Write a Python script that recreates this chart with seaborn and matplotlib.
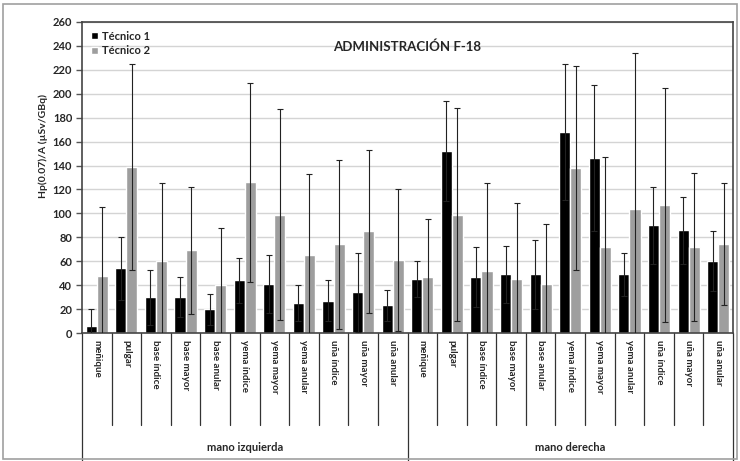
import pandas as pd
import seaborn as sns
import matplotlib.pyplot as plt
from matplotlib.patches import Rectangle
from matplotlib.transforms import blended_transform_factory

dedos = ['meñique', 'pulgar', 'base índice', 'base mayor', 'base anular',
         'yema índice', 'yema mayor', 'yema anular', 'uña índice', 'uña mayor', 'uña anular']
manos = ['mano izquierda', 'mano derecha']

# medias y desviaciones (µSv/GBq)
t1_izq = [6, 54, 30, 30, 20, 44, 41, 25, 27, 34, 23]
t1_izq_err = [14, 26, 23, 17, 13, 19, 24, 15, 17, 33, 13]
t2_izq = [48, 139, 60, 69, 40, 126, 99, 65, 74, 85, 61]
t2_izq_err = [57, 86, 65, 53, 48, 83, 88, 68, 71, 68, 59]
t1_der = [45, 152, 47, 49, 49, 168, 146, 49, 90, 86, 60]
t1_der_err = [15, 42, 25, 24, 29, 57, 61, 18, 32, 28, 25]
t2_der = [47, 99, 52, 45, 41, 138, 72, 104, 107, 72, 74]
t2_der_err = [48, 89, 73, 64, 50, 85, 75, 130, 98, 62, 51]

keys = [f'{m}|{d}' for m in manos for d in dedos]
rows = []
for k, a, b in zip(keys, t1_izq + t1_der, t2_izq + t2_der):
    rows.append({'pos': k, 'tecnico': 'Técnico 1', 'valor': a})
    rows.append({'pos': k, 'tecnico': 'Técnico 2', 'valor': b})
df = pd.DataFrame(rows)
errs = {'Técnico 1': t1_izq_err + t1_der_err, 'Técnico 2': t2_izq_err + t2_der_err}

sns.set_style('white')
plt.rcParams['font.family'] = ['Lato', 'DejaVu Sans']

fig = plt.figure(figsize=(7.4, 4.61), dpi=100)
ax = fig.add_axes([82 / 740, 1 - 333 / 461, 651 / 740, 311 / 461])

sns.barplot(data=df, x='pos', y='valor', hue='tecnico', order=keys,
            palette={'Técnico 1': '#000000', 'Técnico 2': '#9e9e9e'},
            width=0.75, gap=0, errorbar=None, saturation=1, ax=ax, zorder=2)

for cont, name in zip(ax.containers, ['Técnico 1', 'Técnico 2']):
    xs = [p.get_x() + p.get_width() / 2 for p in cont.patches]
    ys = [p.get_height() for p in cont.patches]
    ax.errorbar(xs, ys, yerr=errs[name], fmt='none', ecolor='#222222',
                elinewidth=0.8, capsize=2, capthick=0.8, zorder=3)

ax.set_ylim(0, 260)
ax.set_xlim(-0.5, len(keys) - 0.5)
ax.set_yticks(range(0, 261, 20))
ax.yaxis.grid(True, color='#d4d4d4', lw=1, zorder=0)
ax.set_axisbelow(True)
ax.tick_params(axis='y', left=True, length=4, width=1, color='#555555',
               labelsize=8, pad=3)
for lab in ax.get_yticklabels():
    lab.set_fontweight('bold')
ax.set_xticks(range(len(keys)))
ax.set_xticklabels([''] * len(keys))
ax.tick_params(axis='x', length=0)
ax.set_xlabel('')
ax.set_ylabel('Hp(0.07)/A (µSv/GBq)', fontsize=7.5, fontweight='bold')
ax.yaxis.set_label_coords(-0.052, 0.6)
for s in ax.spines.values():
    s.set_color('#444444')
    s.set_linewidth(1.2)

ax.text(0.5, 0.92, 'ADMINISTRACIÓN F-18', transform=ax.transAxes,
        ha='center', va='center', fontsize=9.5, fontweight='bold')

leg = ax.legend(loc='upper left', bbox_to_anchor=(0.0, 1.0), frameon=False,
                fontsize=8, handlelength=0.6, handleheight=0.6,
                handletextpad=0.4, labelspacing=0.3, borderaxespad=0.4)
for t in leg.get_texts():
    t.set_fontweight('bold')

# eje de categorías en dos niveles
tr = blended_transform_factory(ax.transData, ax.transAxes)
n = len(dedos)
for i, k in enumerate(keys):
    ax.text(i, -0.022, k.split('|')[1], transform=tr, rotation=-90,
            ha='center', va='top', fontsize=7, fontweight='bold')
for i in range(len(keys) + 1):
    x = i - 0.5
    bottom = -0.41 if i % n == 0 else -0.295
    ax.plot([x, x], [0, bottom], transform=tr, color='#333333', lw=0.9,
            clip_on=False)
for j, m in enumerate(manos):
    ax.text(j * n + (n - 1) / 2, -0.367, m, transform=tr, ha='center',
            va='center', fontsize=8, fontweight='bold')

fig.patches.append(Rectangle((3 / 740, 2 / 461), 734 / 740, 455 / 461,
                             transform=fig.transFigure, fill=False,
                             edgecolor='#a0a0a0', lw=1.2))

fig.savefig('out.png', dpi=100)
